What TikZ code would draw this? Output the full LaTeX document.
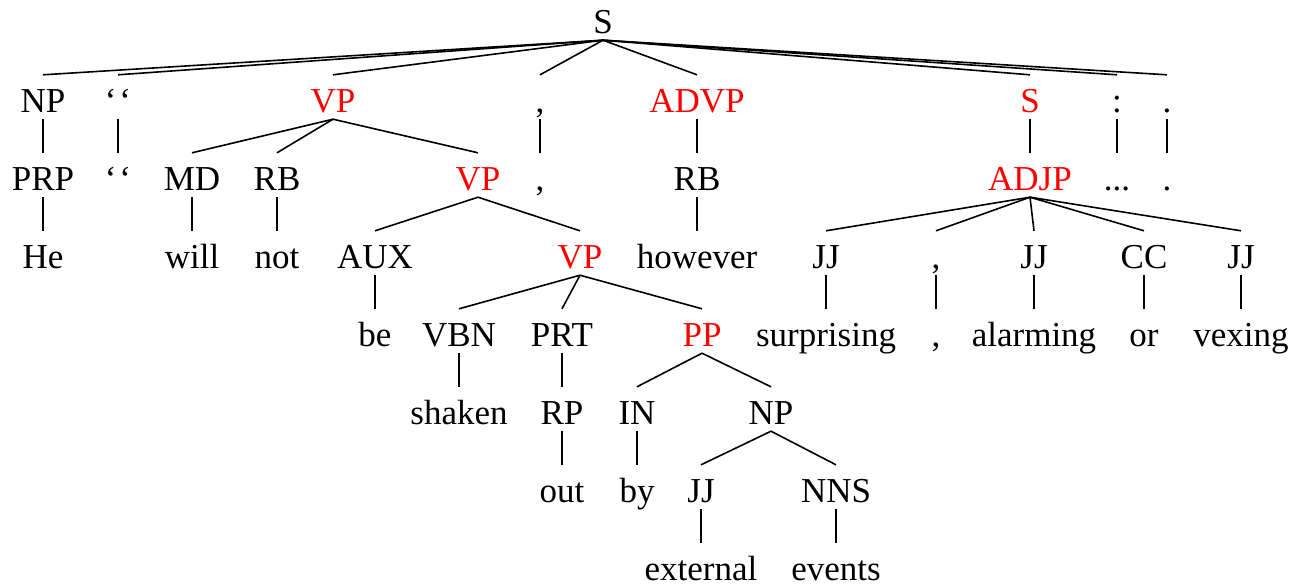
\documentclass[tikz,border=0pt]{standalone}
\usepackage{fontspec}
\setmainfont{Liberation Serif}
\begin{document}
\begin{tikzpicture}[x=1pt,y=-1pt,
  lab/.style={anchor=base, inner sep=0pt, text height=37pt, text depth=7pt,
              font=\fontsize{35}{40}\selectfont},
  hi/.style={lab, text=red},
  edge/.style={line width=1.6pt}]
\useasboundingbox (0,0) rectangle (1293,587);
% level 0
\node[lab] (s) at (603,33) {S};
% level 1
\node[lab] (np1)  at (43,112)   {NP};
\node[lab] (q1)   at (118,112)  {‘\kern3pt‘};
\node[hi]  (vp1)  at (333,112)  {VP};
\node[lab] (c1)   at (540,112)  {,};
\node[hi]  (advp) at (697,112)  {ADVP};
\node[hi]  (s2)   at (1030,112) {S};
\node[lab] (col)  at (1117,112) {:};
\node[lab] (per1) at (1167,112) {.};
% level 2
\node[lab] (prp)  at (43,190)   {PRP};
\node[lab] (q2)   at (118,190)  {‘\kern3pt‘};
\node[lab] (md)   at (192,190)  {MD};
\node[lab] (rb1)  at (277,190)  {RB};
\node[hi]  (vp2)  at (478,190)  {VP};
\node[lab] (c2)   at (540,190)  {,};
\node[lab] (rb2)  at (697,190)  {RB};
\node[hi]  (adjp) at (1030,190) {ADJP};
\node[lab] (ell)  at (1117,190) {...};
\node[lab] (per2) at (1167,190) {.};
% level 3
\node[lab] (he)   at (43,268)   {He};
\node[lab] (will) at (192,268)  {will};
\node[lab] (not)  at (277,268)  {not};
\node[lab] (aux)  at (375,268)  {AUX};
\node[hi]  (vp3)  at (580,268)  {VP};
\node[lab] (how)  at (697,268)  {however};
\node[lab] (jja)  at (826,268)  {JJ};
\node[lab] (c3)   at (936,268)  {,};
\node[lab] (jjb)  at (1034,268) {JJ};
\node[lab] (cc)   at (1144,268) {CC};
\node[lab] (jjc)  at (1241,268) {JJ};
% level 4
\node[lab] (be)   at (375,346)  {be};
\node[lab] (vbn)  at (459,346)  {VBN};
\node[lab] (prt)  at (562,346)  {PRT};
\node[hi]  (pp)   at (702,346)  {PP};
\node[lab] (sur)  at (826,346)  {surprising};
\node[lab] (c4)   at (936,346)  {,};
\node[lab] (alm)  at (1034,346) {alarming};
\node[lab] (or)   at (1144,346) {or};
\node[lab] (vex)  at (1241,346) {vexing};
% level 5
\node[lab] (shk)  at (459,424)  {shaken};
\node[lab] (rp)   at (562,424)  {RP};
\node[lab] (in)   at (637,424)  {IN};
\node[lab] (np2)  at (771,424)  {NP};
% level 6
\node[lab] (out)  at (562,502)  {out};
\node[lab] (by)   at (637,502)  {by};
\node[lab] (jjd)  at (701,502)  {JJ};
\node[lab] (nns)  at (836,502)  {NNS};
% level 7
\node[lab] (ext)  at (701,580)  {external};
\node[lab] (evt)  at (836,580)  {events};
% branches
\foreach \p/\c in {s/np1, s/q1, s/vp1, s/c1, s/advp, s/s2, s/col, s/per1,
    np1/prp, q1/q2, vp1/md, vp1/rb1, vp1/vp2, c1/c2, advp/rb2, s2/adjp, col/ell, per1/per2,
    prp/he, md/will, rb1/not, vp2/aux, vp2/vp3, rb2/how,
    adjp/jja, adjp/c3, adjp/jjb, adjp/cc, adjp/jjc,
    aux/be, vp3/vbn, vp3/prt, vp3/pp, jja/sur, c3/c4, jjb/alm, cc/or, jjc/vex,
    vbn/shk, prt/rp, pp/in, pp/np2,
    rp/out, in/by, np2/jjd, np2/nns,
    jjd/ext, nns/evt}
  \draw[edge] (\p.south) -- (\c.north);
\end{tikzpicture}
\end{document}
